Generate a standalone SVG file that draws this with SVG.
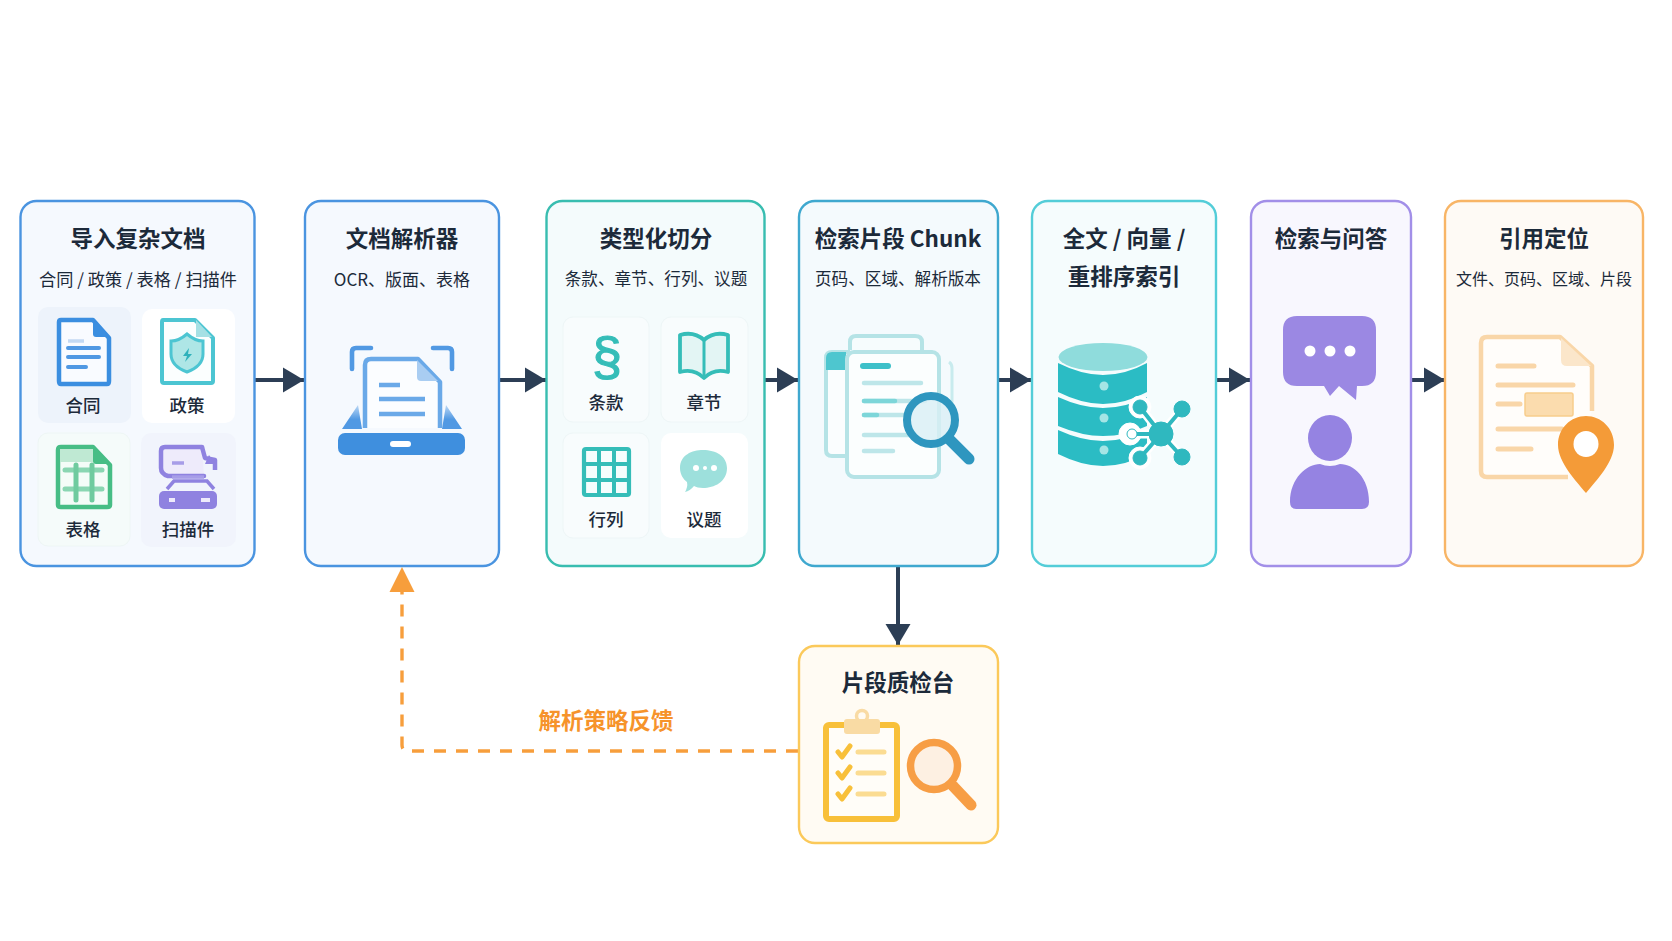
<svg xmlns="http://www.w3.org/2000/svg" width="1672" height="941" viewBox="0 0 1672 941">
<style>
text{font-family:"Noto Sans CJK SC","Noto Sans",sans-serif;text-anchor:middle;dominant-baseline:central;fill:#1c2a3a}
.t{font-size:22.5px;font-weight:700}
.s{font-size:17px;font-weight:400}
.l{font-size:17.5px;font-weight:500}
.card{stroke-width:2.4}
.tile{stroke-width:1}
.flow{fill:none;stroke:#2c3e55;stroke-width:4}
.r{fill:none;stroke-linecap:round;stroke-linejoin:round}
</style>
<defs>
<marker id="h" markerUnits="userSpaceOnUse" markerWidth="22" markerHeight="26" refX="21" refY="13" orient="auto"><path d="M0 0.5L21 13L0 25.5Z" fill="#2c3e55"/></marker>
<linearGradient id="wing" x1="0" y1="0" x2="0" y2="1"><stop offset="0" stop-color="#5199e3" stop-opacity=".35"/><stop offset=".6" stop-color="#5199e3"/></linearGradient>
</defs>
<rect width="1672" height="941" fill="#fff"/>

<g id="connectors">
<path class="flow" d="M255 380H304" marker-end="url(#h)"/>
<path class="flow" d="M499 380H546" marker-end="url(#h)"/>
<path class="flow" d="M765 380H798" marker-end="url(#h)"/>
<path class="flow" d="M998 380H1031" marker-end="url(#h)"/>
<path class="flow" d="M1216 380H1250" marker-end="url(#h)"/>
<path class="flow" d="M1411 380H1445" marker-end="url(#h)"/>
<path class="flow" d="M898 567V645" marker-end="url(#h)"/>
<path d="M798 751H408Q402 751 402 745V592" fill="none" stroke="#f79e3c" stroke-width="3.4" stroke-dasharray="12 10"/>
<path d="M389.500 592L402 567L414.500 592Z" fill="#f79e3c"/>
<text x="606" y="719" font-size="22.500" font-weight="600" style="fill:#f6932b">解析策略反馈</text>
</g>

<g id="n1">
<rect class="card" x="20.500" y="201" width="234" height="365" rx="16" fill="#f5f9fe" stroke="#4a94e0"/>
<text class="t" x="138" y="237">导入复杂文档</text>
<text class="s" x="138" y="278" style="font-size:17.2px">合同 / 政策 / 表格 / 扫描件</text>
<rect x="38" y="307" width="93" height="116" rx="10" fill="#edf3fb"/>
<rect x="142" y="309" width="93" height="114" rx="10" fill="#fff"/>
<rect x="38" y="433" width="92" height="113" rx="10" fill="#f5fbfa" stroke="#eef6f5"/>
<rect x="141" y="433" width="95" height="114" rx="10" fill="#f1f4fc"/>
<path d="M93 320H61Q59 320 59 322V381Q59 384 61 384H107Q109 384 109 381V338Z" fill="#f9fbff" stroke="#3b8ee0" stroke-width="4.500" stroke-linejoin="round"/>
<path d="M93 319L110 337H96Q93 337 93 334Z" fill="#3b8ee0"/>
<path d="M68 341H84" stroke="#c3d9f3" stroke-width="3.500"/>
<path d="M68 348H99M68 357H99M68 367H86" stroke="#5098e3" stroke-width="4" stroke-linecap="round"/>
<text class="l" x="83" y="404">合同</text>
<path d="M195 320H163Q162 320 162 322V381Q162 383 164 383H211Q213 383 213 381V338Z" fill="#fbfefe" stroke="#4cc5d2" stroke-width="4" stroke-linejoin="round"/>
<path d="M196 320L212 337H196Z" fill="#a5e0e4"/>
<path d="M187 334Q195 341 203 341V354Q203 366 187 372Q171 366 171 354V341Q179 341 187 334Z" fill="#aee6e6" stroke="#4cc5d2" stroke-width="3"/>
<path d="M189 348L183 356H187L185 362L192 354H188Z" fill="#2fb1bb"/>
<text class="l" x="187" y="404">政策</text>
<path d="M93 447H61Q58 447 58 450V505Q58 507 61 507H107Q110 507 110 505V465Z" fill="#f4fcf8" stroke="#47bd85" stroke-width="4.500" stroke-linejoin="round"/>
<path d="M93 446L111 464H96Q93 464 93 461Z" fill="#47bd85"/>
<path d="M60 449H93V462H60Z" fill="#bfe9d3"/>
<path d="M65 470H102M65 489H102" stroke="#8ad6b2" stroke-width="5" stroke-linecap="round"/>
<path d="M76 465V500M92 465V500" stroke="#6fcb9f" stroke-width="5" stroke-linecap="round"/>
<text class="l" x="83" y="528">表格</text>
<path d="M202 447H165Q161 447 161 451V468Q161 474 168 476H204" fill="#eeebfb" stroke="#8f82e0" stroke-width="4.500" stroke-linejoin="round" stroke-linecap="round"/>
<path d="M202 447L205 458L215 460V470" fill="none" stroke="#8f82e0" stroke-width="4.500" stroke-linejoin="round"/>
<path d="M209 455L215 464H205Z" fill="#8f82e0"/>
<path d="M172 463H184M172 477H204" stroke="#a79de8" stroke-width="3.500"/>
<path d="M167 489L174 481H207L214 489" fill="none" stroke="#8f82e0" stroke-width="3.500"/>
<rect x="159" y="491" width="58" height="18" rx="5" fill="#8f82e0"/>
<rect x="169" y="498" width="6" height="4" fill="#eeebfb"/><rect x="201" y="498" width="9" height="4" fill="#eeebfb"/>
<text class="l" x="188" y="528">扫描件</text>
</g>

<g id="n2">
<rect class="card" x="305" y="201" width="194" height="365" rx="16" fill="#f5f9fe" stroke="#4a94e0"/>
<text class="t" x="402" y="237">文档解析器</text>
<text class="s" x="402" y="278">OCR、版面、表格</text>
<path d="M371 348H356Q352 348 352 352V369M433 348H448Q452 348 452 352V369" class="r" stroke="#5199e3" stroke-width="4.600"/>
<path d="M342 429L358 405L362 429ZM462 429L446 405L442 429Z" fill="url(#wing)"/>
<path d="M365 428V365Q365 359 371 359H418L440 382V428" fill="#fbfdff" stroke="#6aa9e8" stroke-width="4.500" stroke-linejoin="round"/>
<path d="M417 360L438 381H421Q417 381 417 377Z" fill="#a9cdf2"/>
<path d="M379 385H400M379 399H425M379 414H425" stroke="#6aa9e8" stroke-width="4.500"/>
<rect x="338" y="433" width="127" height="22" rx="7" fill="#3f8fde"/>
<rect x="390" y="441" width="21" height="6" rx="3" fill="#fff"/>
</g>

<g id="n3">
<rect class="card" x="546.500" y="201" width="218" height="365" rx="16" fill="#f4fbfc" stroke="#38bdb0"/>
<text class="t" x="656" y="237">类型化切分</text>
<text class="s" x="656" y="278" style="font-size:16.6px">条款、章节、行列、议题</text>
<rect class="tile" x="563" y="317" width="86" height="105" rx="10" fill="#f8fcfd" stroke="#eef6f7"/>
<rect class="tile" x="661" y="317" width="87" height="105" rx="10" fill="#f8fcfd" stroke="#eef6f7"/>
<rect class="tile" x="563" y="433" width="86" height="105" rx="10" fill="#f8fcfd" stroke="#eef6f7"/>
<rect x="661" y="433" width="87" height="105" rx="10" fill="#fff"/>
<text x="607" y="356" stroke="#35bdb8" stroke-width="1.200" style="font-family:'Liberation Sans',sans-serif;font-size:54px;fill:#35bdb8">§</text>
<text class="l" x="606" y="401">条款</text>
<path d="M704 340Q694 331 680 335V372Q694 368 704 378Q714 368 728 372V335Q714 331 704 340Z" fill="#e3f5f4" stroke="#35bdb8" stroke-width="3.800" stroke-linejoin="round"/>
<path d="M704 340V378" stroke="#35bdb8" stroke-width="3"/>
<text class="l" x="704" y="401">章节</text>
<rect x="584" y="449" width="45" height="46" rx="2" fill="#f5fdfd" stroke="#35bdb8" stroke-width="4.200"/>
<path d="M599 449V495M614 449V495M584 464H629M584 480H629" stroke="#35bdb8" stroke-width="4"/>
<text class="l" x="606" y="518">行列</text>
<path d="M680 468C680 455 692 450 703 450C716 450 727 456 727 468C727 482 714 488 703 488C699 488 696 487 694 486Q690 491 685 492Q688 487 687 482C683 479 680 474 680 468Z" fill="#9de0dc"/>
<circle cx="696" cy="468" r="3" fill="#fff"/><circle cx="705" cy="468" r="2" fill="#fff"/><circle cx="714" cy="468" r="3" fill="#fff"/>
<text class="l" x="704" y="518">议题</text>
</g>

<g id="n4">
<rect class="card" x="799" y="201" width="199" height="365" rx="16" fill="#f4fafd" stroke="#3fa8cf"/>
<text class="t" x="898" y="237">检索片段 Chunk</text>
<text class="s" x="898" y="278" style="font-size:16.6px">页码、区域、解析版本</text>
<path d="M846 456H832Q826 456 826 450V358Q826 352 832 352H850" fill="#fafdfe" stroke="#b5e3e6" stroke-width="4"/>
<path d="M826 358Q826 352 832 352H846V370H826Z" fill="#4ec6cf"/>
<path d="M850 350V342Q850 336 856 336H915Q922 336 922 342V352" fill="#f6fcfd" stroke="#b5e3e6" stroke-width="4"/>
<path d="M949 362Q952 364 952 368V440" fill="none" stroke="#c8ebee" stroke-width="3"/>
<rect x="847" y="352" width="92" height="125" rx="7" fill="#fbfefe" stroke="#b5e3e6" stroke-width="4"/>
<path d="M863 366H888" stroke="#3dc0c9" stroke-width="6" stroke-linecap="round"/>
<path d="M864 383H921M864 401H925M864 415H910M864 435H915M864 451H893" stroke="#bde6e9" stroke-width="4.500" stroke-linecap="round"/>
<path d="M864 401H895M864 415H877" stroke="#7dd6d9" stroke-width="4.500" stroke-linecap="round"/>
<circle cx="931" cy="420" r="24" fill="#d9eff5" fill-opacity=".8" stroke="#2e96bf" stroke-width="8"/>
<path d="M950 440L969 459" stroke="#2e96bf" stroke-width="11" stroke-linecap="round"/>
</g>

<g id="n5">
<rect class="card" x="1032" y="201" width="184" height="365" rx="16" fill="#f5fcfd" stroke="#53cdd8"/>
<text class="t" x="1124" y="237">全文 / 向量 /</text>
<text class="t" x="1124" y="275">重排序索引</text>
<path d="M1058 363V392Q1082 404 1103 404Q1125 404 1147 392V363Q1125 375 1103 375Q1082 375 1058 363Z" fill="#2bbcc4"/>
<path d="M1058 397V426Q1082 436 1103 436Q1125 436 1147 426V397Q1125 408 1103 408Q1082 408 1058 397Z" fill="#2bbcc4"/>
<path d="M1058 430V454Q1082 466 1103 466Q1125 466 1147 454V430Q1125 441 1103 441Q1082 441 1058 430Z" fill="#2bbcc4"/>
<ellipse cx="1103" cy="357" rx="44.500" ry="14" fill="#8fdcdc"/>
<circle cx="1104" cy="386" r="4.500" fill="#a5e5e5"/><circle cx="1104" cy="418" r="4.500" fill="#a5e5e5"/><circle cx="1104" cy="450" r="4.500" fill="#a5e5e5"/>
<g stroke="#fff" fill="#fff"><path d="M1161 434L1140 407M1161 434L1182 409M1161 434H1130M1161 434L1140 458M1161 434L1182 457" stroke-width="9"/><circle cx="1140" cy="407" r="11"/><circle cx="1130" cy="434" r="11"/><circle cx="1140" cy="458" r="11"/></g>
<g stroke="#2fb8bf" fill="#2fb8bf"><path d="M1161 434L1140 407M1161 434L1182 409M1161 434H1130M1161 434L1140 458M1161 434L1182 457" stroke-width="4"/><circle cx="1161" cy="434" r="12"/><circle cx="1140" cy="407" r="7"/><circle cx="1182" cy="409" r="8"/><circle cx="1132" cy="434" r="5" fill="#fff"/><circle cx="1140" cy="458" r="7"/><circle cx="1182" cy="457" r="8"/></g>
</g>

<g id="n6">
<rect class="card" x="1251" y="201" width="160" height="365" rx="16" fill="#f8f7fe" stroke="#a28fe8"/>
<text class="t" x="1331" y="237">检索与问答</text>
<path d="M1297 316H1362Q1376 316 1376 330V372Q1376 386 1362 386H1357L1356 400L1339 386L1330 396L1324 386H1297Q1283 386 1283 372V330Q1283 316 1297 316Z" fill="#9b88e3"/>
<circle cx="1310" cy="351" r="5.500" fill="#fff"/><circle cx="1330" cy="351" r="5.500" fill="#fff"/><circle cx="1350" cy="351" r="5.500" fill="#fff"/>
<ellipse cx="1330" cy="438" rx="22" ry="23" fill="#9583e2"/>
<path d="M1290 502C1290 478 1307 464 1320 464Q1330 468 1340 464C1354 464 1369 478 1369 502Q1369 509 1362 509H1296Q1290 509 1290 502Z" fill="#9583e2"/>
</g>

<g id="n7">
<rect class="card" x="1445" y="201" width="198" height="365" rx="16" fill="#fefaf5" stroke="#f8b566"/>
<text class="t" x="1544" y="237">引用定位</text>
<text class="s" x="1544" y="278" style="font-size:16px">文件、页码、区域、片段</text>
<path d="M1568 477H1487Q1481 477 1481 471V343Q1481 337 1487 337H1560L1592 366V411" fill="#fffdfa" stroke="#f9d6a8" stroke-width="4.500" stroke-linejoin="round"/>
<path d="M1561 338L1591 366H1567Q1561 366 1561 360Z" fill="#fbe6ca"/>
<path d="M1498 366H1534M1498 385H1573M1498 404H1520M1498 429H1562M1498 449H1531" stroke="#f9d6a8" stroke-width="5" stroke-linecap="round"/>
<rect x="1525" y="393" width="48" height="23" rx="2" fill="#fbdcae" stroke="#f8cd8c" stroke-width="1.500"/>
<path d="M1586 416C1601 416 1614 428 1614 445C1614 462 1596 481 1586 493C1576 481 1558 462 1558 445C1558 428 1571 416 1586 416Z" fill="#f49b38"/>
<ellipse cx="1586" cy="444" rx="12.500" ry="13" fill="#fff"/>
</g>

<g id="n8">
<rect class="card" x="799" y="646" width="199" height="197" rx="16" fill="#fffbf3" stroke="#fbc95a"/>
<text class="t" x="898" y="681">片段质检台</text>
<rect x="826" y="725" width="71" height="94" rx="3" fill="#fffdf8" stroke="#f8c03a" stroke-width="6"/>
<circle cx="862" cy="716" r="5.500" fill="none" stroke="#f9dba4" stroke-width="3.500"/>
<rect x="844" y="719" width="36" height="15" rx="3" fill="#f9dba4"/>
<path d="M838 752L842 757L850 746M838 773L842 778L850 767M838 794L842 799L850 788" class="r" stroke="#f8c03a" stroke-width="5"/>
<path d="M858 752H884M858 773H884M858 794H884" stroke="#fbdc92" stroke-width="5" stroke-linecap="round"/>
<circle cx="934" cy="766" r="23.500" fill="#fdf0e2" stroke="#f79e45" stroke-width="7.500"/>
<path d="M953 786L971 805" stroke="#f79e45" stroke-width="11" stroke-linecap="round"/>
</g>
</svg>
